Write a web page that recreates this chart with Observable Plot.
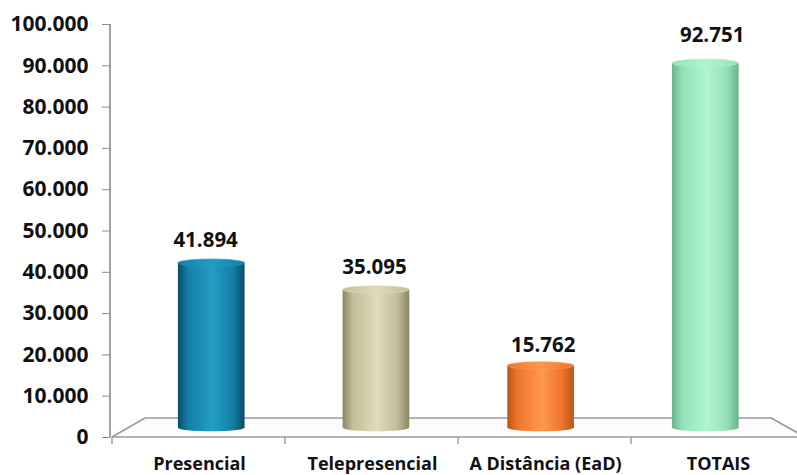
<!DOCTYPE html>
<html><head><meta charset="utf-8">
<script src="https://cdn.jsdelivr.net/npm/d3@7"></script>
<script src="https://cdn.jsdelivr.net/npm/@observablehq/plot@0.6"></script>
<style>
body{margin:0;background:#fff;}
#chart svg{display:block;}
</style></head><body><div id="chart"></div>
<script>
// ---- data ----
const categories = ["Presencial", "Telepresencial", "A Distância (EaD)", "TOTAIS"];
const values = [41894, 35095, 15762, 92751];
const yTicks = [0, 10000, 20000, 30000, 40000, 50000, 60000, 70000, 80000, 90000, 100000];
// ---- styles ----
const baseColors  = ["#1280a7", "#c4bd97", "#ee762a", "#94e2b9"];
const lightColors = ["#249cc5", "#e0dbba", "#ff984f", "#b0f4d0"];
const darkColors  = ["#0a4d66", "#8a8464", "#b9541b", "#69b48d"];

const data = categories.map((c, i) => ({category: c, value: values[i], index: i, fill: `url(#grad${i})`}));
const fmt = d3.formatLocale({decimal: ",", thousands: ".", grouping: [3], currency: ["", ""]}).format(",");
const font = "'Open Sans', 'Liberation Sans', sans-serif";

const plot = Plot.plot({
  width: 797, height: 475,
  marginLeft: 110, marginRight: 0, marginTop: 24, marginBottom: 38,
  style: {fontFamily: font, fontWeight: "bold", background: "#fff", color: "#111"},
  x: {domain: categories, range: [112, 805], paddingInner: 0.594, paddingOuter: 0.297, label: null},
  y: {domain: [0, 100000], label: null},
  color: {type: "identity"},
  marks: [
    Plot.axisY({ticks: yTicks, tickFormat: fmt, tickSize: 8, tickPadding: 14, stroke: "#8c8c8c", fill: "#111", fontSize: 21, label: null}),
    Plot.axisX({tickSize: 0, tickPadding: 20, fontSize: 18, fill: "#111", label: null}),
    Plot.barY(data, {x: "category", y: "value", fill: "fill"}),
    Plot.text(data, {x: "category", y: "value", text: d => fmt(d.value), dy: -24, fontSize: 21, fill: "#111"})
  ]
});
document.getElementById("chart").appendChild(plot);

// ---- 3D decoration derived from the scales ----
const svg = d3.select(plot);
const xs = plot.scale("x"), ys = plot.scale("y");
const VP = [454, 240];            // vanishing point of the perspective
const BACK = 0.9035, MID = 0.952, LABEL = 0.976;
const P = (s, p) => [VP[0] + s * (p[0] - VP[0]), VP[1] + s * (p[1] - VP[1])];
const persp = s => `matrix(${s},0,0,${s},${VP[0] * (1 - s)},${VP[1] * (1 - s)})`;

// gradients
const defs = svg.insert("defs", ":first-child");
baseColors.forEach((c, i) => {
  const g = defs.append("linearGradient").attr("id", `grad${i}`).attr("x1", 0).attr("x2", 1).attr("y1", 0).attr("y2", 0);
  [[0, darkColors[i]], [0.15, baseColors[i]], [0.52, lightColors[i]], [0.82, baseColors[i]], [1, darkColors[i]]]
    .forEach(([o, col]) => g.append("stop").attr("offset", o).attr("stop-color", col));
  const cg = defs.append("linearGradient").attr("id", `cap${i}`).attr("x1", 0).attr("x2", 1).attr("y1", 0).attr("y2", 0);
  [[0, baseColors[i]], [0.5, lightColors[i]], [1, baseColors[i]]]
    .forEach(([o, col]) => cg.append("stop").attr("offset", o).attr("stop-color", col));
});

// floor
const x0 = xs.range[0], x1 = xs.range[1], yb = ys.apply(0);
const fl = P(BACK, [x0, yb]), fr = P(BACK, [x1, yb]);
const floor = svg.insert("g", 'g[aria-label="bar"]');
floor.append("polygon")
  .attr("points", [[x0, yb], fl, fr, [x1, yb]].map(p => p.join(",")).join(" "))
  .attr("fill", "#fcfcfc").attr("stroke", "#9a9a9a").attr("stroke-width", 1.6).attr("stroke-linejoin", "round");
for (let i = 0; i <= categories.length; i++) {
  const tx = x0 + i * xs.step;
  floor.append("line").attr("x1", tx).attr("x2", tx).attr("y1", yb).attr("y2", yb + 7)
    .attr("stroke", "#9a9a9a").attr("stroke-width", 1.4);
}
// y axis line
svg.append("line").attr("x1", 110).attr("x2", 110).attr("y1", ys.apply(0)).attr("y2", ys.apply(100000))
  .attr("stroke", "#8c8c8c").attr("stroke-width", 1.6);

// bars -> cylinders at mid depth
const barG = svg.select('g[aria-label="bar"]');
const wrapB = svg.insert("g", 'g[aria-label="bar"]').attr("transform", persp(MID));
wrapB.node().appendChild(barG.node());
barG.selectAll("rect").each(function(d, k) {
  const r = d3.select(this);
  const x = +r.attr("x"), y = +r.attr("y"), w = +r.attr("width"), h = +r.attr("height");
  const i = k;
  const ry = 4;
  barG.append("ellipse").attr("cx", x + w / 2).attr("cy", y + h).attr("rx", w / 2).attr("ry", ry).attr("fill", `url(#grad${i})`);
  barG.append("ellipse").attr("cx", x + w / 2).attr("cy", y).attr("rx", w / 2).attr("ry", ry)
    .attr("fill", `url(#cap${i})`).attr("stroke", lightColors[i]).attr("stroke-width", 0.6);
});

// value labels slightly in front
const txtG = svg.select('g[aria-label="text"]');
const wrapT = svg.append("g").attr("transform", persp(LABEL));
wrapT.node().appendChild(txtG.node());
</script>
</body></html>
